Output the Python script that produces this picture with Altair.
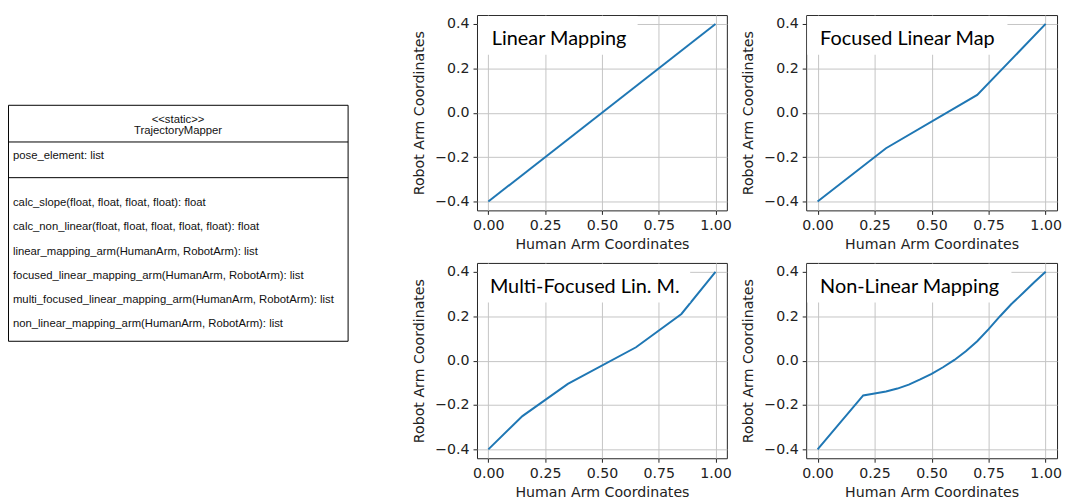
import altair as alt
import pandas as pd

# ---------------- data ----------------
linear_x = [0.0, 1.0]
linear_y = [-0.4, 0.4]

focused_x = [0.0, 0.3, 0.7, 1.0]
focused_y = [-0.4, -0.16, 0.08, 0.4]

multi_x = [0.0, 0.15, 0.35, 0.65, 0.85, 1.0]
multi_y = [-0.4, -0.25, -0.105, 0.06, 0.21, 0.4]

nonlin_x = [0.0, 0.2, 0.25, 0.3, 0.35, 0.4, 0.45, 0.5, 0.55, 0.6,
            0.65, 0.7, 0.75, 0.8, 0.85, 0.9, 0.95, 1.0]
nonlin_y = [-0.4, -0.157, -0.148, -0.139, -0.126, -0.108, -0.085, -0.06, -0.03, 0.003,
            0.042, 0.087, 0.142, 0.2, 0.255, 0.303, 0.353, 0.4]

panel_labels = ["Linear Mapping", "Focused Linear Map", "Multi-Focused Lin. M.", "Non-Linear Mapping"]
x_ticks = [0.0, 0.25, 0.5, 0.75, 1.0]
y_ticks = [-0.4, -0.2, 0.0, 0.2, 0.4]
x_title = "Human Arm Coordinates"
y_title = "Robot Arm Coordinates"

uml_header = ["<<static>>", "TrajectoryMapper"]
uml_attrs = ["pose_element: list"]
uml_methods = [
    "calc_slope(float, float, float, float): float",
    "calc_non_linear(float, float, float, float, float): float",
    "linear_mapping_arm(HumanArm, RobotArm): list",
    "focused_linear_mapping_arm(HumanArm, RobotArm): list",
    "multi_focused_linear_mapping_arm(HumanArm, RobotArm): list",
    "non_linear_mapping_arm(HumanArm, RobotArm): list",
]

# ---------------- styling / layout ----------------
LINE_COLOR = "#1f77b4"
TXT = "#222222"
PH = 197
AX_FS = 14.3


def make_panel(xs, ys, label, box_w, text_x, width):
    df = pd.DataFrame({"x": xs, "y": ys})
    base = alt.Chart(df)
    xenc = alt.X("x:Q", title=x_title,
                 scale=alt.Scale(domain=[-0.05, 1.05], nice=False, zero=False),
                 axis=alt.Axis(values=x_ticks, format=".2f"))
    yenc = alt.Y("y:Q", title=y_title,
                 scale=alt.Scale(domain=[-0.44, 0.44], nice=False, zero=False),
                 axis=alt.Axis(values=y_ticks, format=".1f"))
    line = base.mark_line(color=LINE_COLOR, strokeWidth=2).encode(x=xenc, y=yenc)
    box = alt.Chart(pd.DataFrame({"t": [label]})).mark_rect(fill="white", stroke=None).encode(
        x=alt.value(1), x2=alt.value(box_w), y=alt.value(1), y2=alt.value(40))
    txt = alt.Chart(pd.DataFrame({"t": [label]})).mark_text(
        align="left", baseline="alphabetic", font="Lato", fontSize=20, color="#000000"
    ).encode(x=alt.value(text_x), y=alt.value(30), text="t:N")
    return alt.layer(line, box, txt).properties(width=width, height=PH)


p1 = make_panel(linear_x, linear_y, panel_labels[0], 162, 15, 252)
p2 = make_panel(focused_x, focused_y, panel_labels[1], 203, 14, 253)
p3 = make_panel(multi_x, multi_y, panel_labels[2], 215, 13, 252)
p4 = make_panel(nonlin_x, nonlin_y, panel_labels[3], 207, 14, 253)

# UML class box
rows = []
for i, t in enumerate(uml_header):
    rows.append({"t": t, "px": 171.5, "py": 105.5 + 11.5 * i, "al": "center"})
for i, t in enumerate(uml_attrs):
    rows.append({"t": t, "px": 5, "py": 142, "al": "left"})
for i, t in enumerate(uml_methods):
    rows.append({"t": t, "px": 5, "py": 189.7 + 24.4 * i, "al": "left"})
uml_df = pd.DataFrame(rows)

one = pd.DataFrame({"a": [0]})
uml_box = alt.Chart(one).mark_rect(
    fill="white", stroke="#000000", strokeWidth=1
).encode(x=alt.value(0.5), x2=alt.value(343), y=alt.value(91), y2=alt.value(329))
div1 = alt.Chart(one).mark_rule(color="#000000", strokeWidth=1).encode(
    x=alt.value(0.5), x2=alt.value(343), y=alt.value(128))
div2 = alt.Chart(one).mark_rule(color="#000000", strokeWidth=1).encode(
    x=alt.value(0.5), x2=alt.value(343), y=alt.value(164))
uml_center = alt.Chart(uml_df[uml_df["al"] == "center"]).mark_text(
    align="center", baseline="middle", font="Liberation Sans", fontSize=11.4, color="#111111"
).encode(x=alt.X("px:Q", scale=None), y=alt.Y("py:Q", scale=None), text="t:N")
uml_left = alt.Chart(uml_df[uml_df["al"] == "left"]).mark_text(
    align="left", baseline="middle", font="Liberation Sans", fontSize=11.4, color="#111111"
).encode(x=alt.X("px:Q", scale=None), y=alt.Y("py:Q", scale=None), text="t:N")
uml = alt.layer(uml_box, div1, div2, uml_center, uml_left).properties(
    width=393, height=PH, view=alt.ViewConfig(stroke=None))

blank = alt.Chart(one).mark_text(text="").encode(
    x=alt.value(100), y=alt.value(100)).properties(width=393, height=PH, view=alt.ViewConfig(stroke=None))

chart = alt.concat(
    uml, p1, p2, blank, p3, p4, columns=3,
    spacing={"row": 53, "column": 80}, bounds="flush", align="each"
).properties(
    padding={"left": 0, "top": 4, "right": 0, "bottom": 0}
).configure_view(
    stroke=TXT, strokeWidth=1
).configure_axis(
    labelFont="DejaVu Sans", labelFontSize=AX_FS, labelColor=TXT,
    titleFont="DejaVu Sans", titleFontSize=AX_FS, titleFontWeight="normal", titleColor=TXT,
    tickColor=TXT, tickSize=4, tickWidth=1, domain=False,
    gridColor="#c4c4c4", gridWidth=1, labelPadding=4, titlePadding=5
).configure_axisY(titlePadding=8)

chart.save("out.html", embed_options={"renderer": "svg", "actions": False})
